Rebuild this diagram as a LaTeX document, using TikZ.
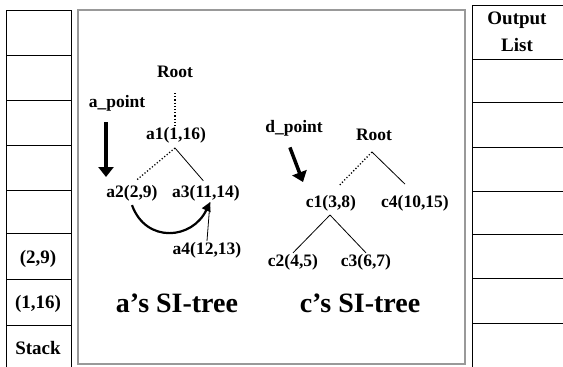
\documentclass[tikz,border=0pt]{standalone}
\usepackage{fontspec}
\setmainfont{Liberation Serif}
\usetikzlibrary{arrows.meta}
\tikzset{
	lbl/.style={font=\bfseries\fontsize{17.5}{18}\selectfont, inner sep=1pt},
	cell/.style={font=\bfseries\fontsize{19}{20}\selectfont, inner sep=1pt},
	title/.style={font=\bfseries\fontsize{28}{30}\selectfont, inner sep=1pt},
	bigarrow/.style={line width=3.5pt, -{Triangle[width=15pt,length=10pt]}},
	tline/.style={line width=0.8pt},
	dline/.style={line width=1.3pt, dash pattern=on 1.2pt off 2pt},
}
\begin{document}
\begin{tikzpicture}[x=1pt,y=-1pt]
			%%%%% START %%%%%
			\useasboundingbox (0,0) rectangle (563,367);
			
			% stack
			\draw[line width=0.9pt] (6,367) -- (6,10) -- (71,10) -- (71,367);
			\foreach \y in {55,100,145,190,233,279,325}
				\draw[line width=0.9pt] (6,\y) -- (71,\y);
			\node[cell] (s1) at (38,259) {(2,9)};
			\node[cell] (s2) at (38,304) {(1,16)};
			\node[cell] (s3) at (38,348) {Stack};
			
			% frame
			\draw[line width=2.5pt, color=black!40] (78,10) rectangle (465,364);
			
			% output list
			\draw[line width=0.9pt] (472,367) -- (472,5) -- (563,5);
			\foreach \y in {59,102,147,191,234,278,323}
				\draw[line width=0.9pt] (472,\y) -- (563,\y);
			\node[cell] (o1) at (517,20) {Output};
			\node[cell] (o2) at (517,45) {List};
			
			% a's SI-tree
			\node[lbl] (aroot) at (175,72) {Root};
			\node[lbl] (apt) at (117,103) {a\_point};
			\node[lbl] (a1) at (176,135) {a1(1,16)};
			\node[lbl] (a2) at (132,193) {a2(2,9)};
			\node[lbl] (a3) at (206,193) {a3(11,14)};
			\node[lbl] (a4) at (207,250) {a4(12,13)};
			\coordinate (a1b) at (175,148);
			\coordinate (atip) at (106,177);
			
			\draw[dline, shorten <=14pt] (aroot.south) -- (aroot.south |- a1.north);
			\draw[dline, shorten >=5pt] (a1b) -- (a2.north);
			\draw[tline, shorten >=4pt] (a1b) -- (a3.north);
			\draw[bigarrow, shorten <=10pt] (apt.south -| atip) -- (atip);
			\draw[line width=2.2pt, -{Triangle[width=9pt,length=9pt]}] ([yshift=-3pt]a2.south) to[out=-70,in=-115,looseness=1.35] ([xshift=4pt]a3.south);
			\draw[tline] (a4.north) -- ([xshift=4pt]a3.south);
			
			% c's SI-tree
			\node[lbl] (dpt) at (294,128) {d\_point};
			\node[lbl] (croot) at (374,135) {Root};
			\node[lbl] (c1) at (331,203) {c1(3,8)};
			\node[lbl] (c4) at (415,203) {c4(10,15)};
			\node[lbl] (c2) at (293,262) {c2(4,5)};
			\node[lbl] (c3) at (366,262) {c3(6,7)};
			\coordinate (capex) at (372,152);
			\coordinate (c1b) at (330,215);
			\coordinate (dtip) at (303,182);
			
			\draw[dline, shorten >=12pt] (capex) -- (c1.north);
			\draw[tline, shorten >=14pt] (capex) -- (c4.north);
			\draw[tline] (c1b) -- (c2.north);
			\draw[tline] (c1b) -- (c3.north);
			\draw[bigarrow, shorten <=11pt] ([xshift=-8pt]dpt.south) -- (dtip);
			
			% titles
			\node[title] (atitle) at (177,303) {a’s SI-tree};
			\node[title] (ctitle) at (360,303) {c’s SI-tree};
			%%%%% END %%%%%
\end{tikzpicture}
\end{document}
